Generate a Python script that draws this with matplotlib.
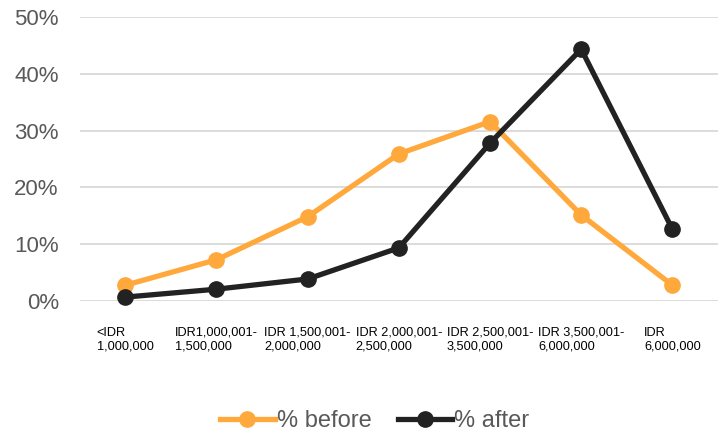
import matplotlib.pyplot as plt
import numpy as np

plt.rcParams['font.family'] = ['Liberation Sans', 'DejaVu Sans']

categories = ['<IDR\n1,000,000', 'IDR1,000,001-\n1,500,000', 'IDR 1,500,001-\n2,000,000',
              'IDR 2,000,001-\n2,500,000', 'IDR 2,500,001-\n3,500,000', 'IDR 3,500,001-\n6,000,000',
              'IDR\n6,000,000']
pct_before = [2.7, 7.2, 14.8, 25.9, 31.6, 15.1, 2.7]
pct_after = [0.6, 2.0, 3.8, 9.3, 27.8, 44.4, 12.6]

orange = '#FFA83C'
dark = '#222222'
grey_text = '#595959'

fig = plt.figure(figsize=(7.18, 4.33), dpi=100)
ax = fig.add_axes([0.111, 0.306, 0.889, 0.6536])

x = np.arange(len(categories))
ax.plot(x, pct_before, color=orange, lw=3.8, marker='o', ms=11, label='% before', clip_on=False, zorder=3)
ax.plot(x, pct_after, color=dark, lw=3.8, marker='o', ms=11, label='% after', clip_on=False, zorder=4)

ax.set_xlim(-0.5, len(categories) - 0.5)
ax.set_ylim(0, 50)
ax.set_yticks(np.arange(0, 51, 10))
ax.set_yticklabels([f'{v}%' for v in range(0, 51, 10)])
ax.yaxis.grid(True, color='#D9D9D9', lw=1.3)
ax.set_axisbelow(True)
for s in ax.spines.values():
    s.set_visible(False)
ax.tick_params(axis='y', length=0, pad=15, labelsize=16, labelcolor=grey_text)

ax.set_xticks(x)
ax.set_xticklabels(categories, fontsize=9.2, color='black', multialignment='left', linespacing=1.2)
ax.tick_params(axis='x', length=0, pad=19)

fig.legend(loc='center', bbox_to_anchor=(0.522, 0.028), ncol=2, frameon=False, fontsize=17,
           labelcolor=grey_text, handlelength=2.3, handletextpad=0.1, columnspacing=1.1)

fig.savefig('out.png', dpi=100)
